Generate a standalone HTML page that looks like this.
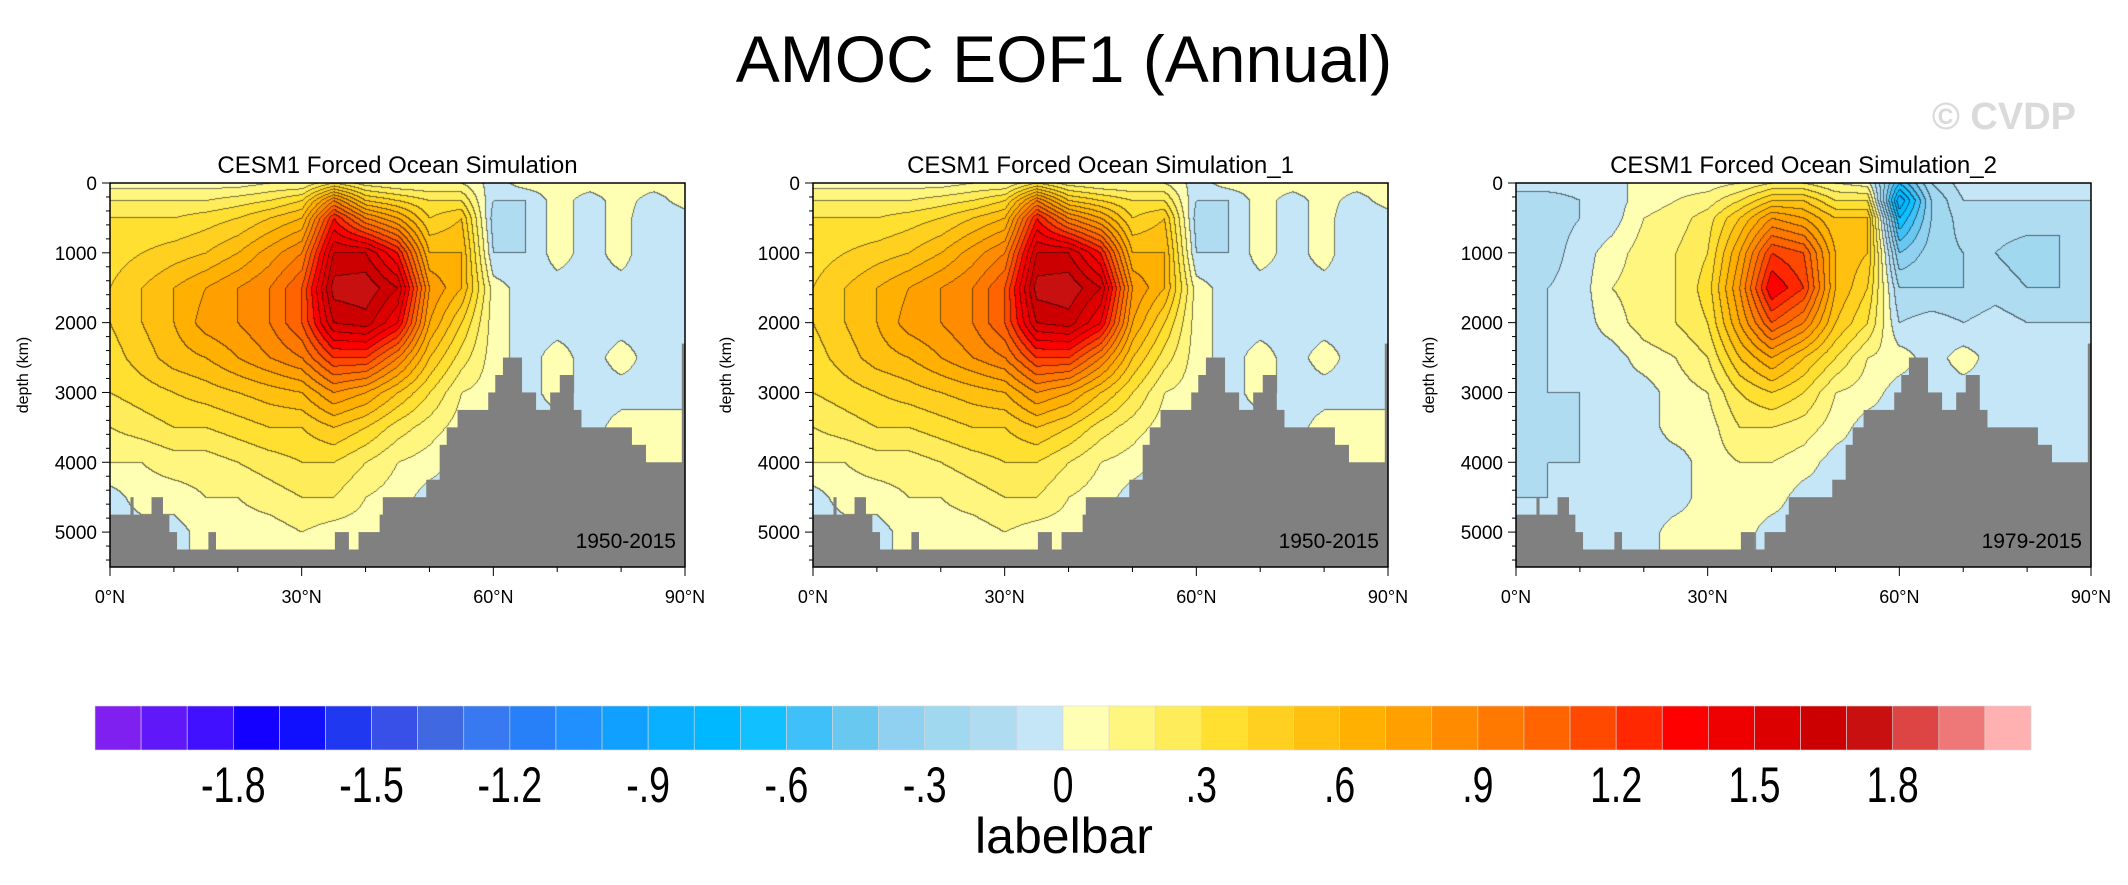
<!DOCTYPE html>
<html><head><meta charset="utf-8"><style>
html,body{margin:0;padding:0;background:#fff;}
#root{position:relative;width:2128px;height:885px;overflow:hidden;font-family:"Liberation Sans",sans-serif;}
canvas{position:absolute;}
svg{position:absolute;left:0;top:0;}
</style></head><body>
<div id="root">
<canvas id="c0" width="575" height="384" style="left:110px;top:183px"></canvas>
<canvas id="c1" width="575" height="384" style="left:813px;top:183px"></canvas>
<canvas id="c2" width="575" height="384" style="left:1516px;top:183px"></canvas>
<svg id="ov" width="2128" height="885"></svg>
</div>
<script>
const lats=[0,5,10,15,20,25,30,35,40,45,50,55,60,65,70,75,80,85,90];
const depths=[0,250,500,1000,1500,2000,2500,3000,3500,4000,4500,5000,5500];
const field1=[
[0.05,0.05,0.05,0.05,0.05,0.1,0.1,0.3,0.15,0.1,0.1,0.1,-0.05,0.05,0.05,0.05,0.05,0.05,0.05],
[0.2,0.2,0.2,0.2,0.25,0.3,0.4,0.9,0.5,0.4,0.3,0.3,-0.1,-0.1,0.05,-0.05,0.05,-0.05,0.05],
[0.3,0.3,0.3,0.35,0.4,0.5,0.6,1.3,0.9,0.7,0.4,0.5,-0.15,-0.1,0.05,-0.05,0.05,-0.1,-0.05],
[0.35,0.4,0.45,0.5,0.6,0.75,0.9,1.6,1.6,1.3,0.6,0.6,-0.1,-0.1,0.05,-0.05,0.05,-0.1,-0.05],
[0.4,0.5,0.6,0.7,0.8,0.9,1.1,1.75,1.78,1.6,0.8,0.6,0.05,-0.05,-0.05,-0.05,-0.05,-0.05,-0.05],
[0.4,0.5,0.6,0.75,0.8,0.9,1.1,1.6,1.65,1.4,0.7,0.4,0.05,-0.05,-0.05,-0.05,-0.05,-0.05,-0.05],
[0.35,0.45,0.55,0.6,0.7,0.8,0.9,1.2,1.2,0.9,0.5,0.25,0.05,-0.05,0.05,-0.05,0.05,-0.05,-0.05],
[0.3,0.35,0.4,0.45,0.5,0.55,0.6,0.8,0.7,0.5,0.3,0.1,0.05,-0.05,0.05,-0.05,-0.05,-0.05,-0.05],
[0.2,0.25,0.3,0.3,0.35,0.4,0.4,0.5,0.4,0.25,0.15,0.05,0.05,-0.05,-0.05,-0.05,0.05,0.05,0.05],
[0.1,0.1,0.15,0.15,0.2,0.25,0.3,0.3,0.2,0.1,0.05,-0.05,-0.05,-0.05,-0.05,-0.05,0.05,0.05,0.05],
[-0.05,0.05,0.05,0.1,0.1,0.15,0.2,0.2,0.1,0.05,-0.05,-0.05,-0.05,-0.05,-0.05,-0.05,0.05,0.05,0.05],
[-0.05,-0.05,-0.05,0.05,0.05,0.05,0.1,0.05,0.05,0.05,-0.05,-0.05,-0.05,-0.05,-0.05,-0.05,0.05,0.05,0.05],
[-0.05,-0.05,-0.05,0.05,0.05,0.05,0.1,0.05,0.05,0.05,-0.05,-0.05,-0.05,-0.05,-0.05,-0.05,0.05,0.05,0.05]];
const field2=[
[0.05,0.05,0.05,0.05,0.05,0.1,0.1,0.3,0.15,0.1,0.1,0.1,-0.05,0.05,0.05,0.05,0.05,0.05,0.05],
[0.2,0.2,0.2,0.2,0.25,0.3,0.4,0.9,0.5,0.4,0.3,0.3,-0.1,-0.1,0.05,-0.05,0.05,-0.05,0.05],
[0.3,0.3,0.3,0.35,0.4,0.5,0.6,1.3,0.9,0.7,0.4,0.5,-0.15,-0.1,0.05,-0.05,0.05,-0.1,-0.05],
[0.35,0.4,0.45,0.5,0.6,0.75,0.9,1.6,1.6,1.3,0.6,0.6,-0.1,-0.1,0.05,-0.05,0.05,-0.1,-0.05],
[0.4,0.5,0.6,0.7,0.8,0.9,1.1,1.75,1.78,1.6,0.8,0.6,0.05,-0.05,-0.05,-0.05,-0.05,-0.05,-0.05],
[0.4,0.5,0.6,0.75,0.8,0.9,1.1,1.6,1.65,1.4,0.7,0.4,0.05,-0.05,-0.05,-0.05,-0.05,-0.05,-0.05],
[0.35,0.45,0.55,0.6,0.7,0.8,0.9,1.2,1.2,0.9,0.5,0.25,0.05,-0.05,0.05,-0.05,0.05,-0.05,-0.05],
[0.3,0.35,0.4,0.45,0.5,0.55,0.6,0.8,0.7,0.5,0.3,0.1,0.05,-0.05,0.05,-0.05,-0.05,-0.05,-0.05],
[0.2,0.25,0.3,0.3,0.35,0.4,0.4,0.5,0.4,0.25,0.15,0.05,0.05,-0.05,-0.05,-0.05,0.05,0.05,0.05],
[0.1,0.1,0.15,0.15,0.2,0.25,0.3,0.3,0.2,0.1,0.05,-0.05,-0.05,-0.05,-0.05,-0.05,0.05,0.05,0.05],
[-0.05,0.05,0.05,0.1,0.1,0.15,0.2,0.2,0.1,0.05,-0.05,-0.05,-0.05,-0.05,-0.05,-0.05,0.05,0.05,0.05],
[-0.05,-0.05,-0.05,0.05,0.05,0.05,0.1,0.05,0.05,0.05,-0.05,-0.05,-0.05,-0.05,-0.05,-0.05,0.05,0.05,0.05],
[-0.05,-0.05,-0.05,0.05,0.05,0.05,0.1,0.05,0.05,0.05,-0.05,-0.05,-0.05,-0.05,-0.05,-0.05,0.05,0.05,0.05]];
const field3=[
[-0.05,-0.05,-0.05,-0.05,0.05,0.05,0.05,0.1,0.2,0.2,0.1,0.05,-0.6,-0.2,-0.05,-0.05,-0.05,-0.05,-0.05],
[-0.15,-0.15,-0.1,-0.05,0.05,0.1,0.15,0.3,0.5,0.5,0.3,0.3,-0.9,-0.3,-0.1,-0.1,-0.1,-0.1,-0.1],
[-0.2,-0.15,-0.1,-0.05,0.1,0.15,0.25,0.5,0.8,0.7,0.5,0.5,-0.7,-0.3,-0.15,-0.15,-0.15,-0.2,-0.2],
[-0.2,-0.15,-0.05,0.05,0.15,0.2,0.3,0.7,1.2,1.1,0.6,0.5,-0.4,-0.25,-0.2,-0.2,-0.25,-0.2,-0.2],
[-0.15,-0.1,-0.05,0.1,0.15,0.2,0.35,0.8,1.4,1.2,0.6,0.4,-0.2,-0.2,-0.2,-0.15,-0.2,-0.2,-0.2],
[-0.15,-0.1,-0.05,0.05,0.15,0.2,0.3,0.7,1.1,0.9,0.5,0.3,-0.1,-0.05,-0.1,-0.05,-0.1,-0.1,-0.1],
[-0.15,-0.1,-0.05,-0.05,0.05,0.1,0.2,0.5,0.7,0.5,0.3,0.1,0.05,-0.05,0.05,-0.05,-0.05,-0.05,-0.05],
[-0.15,-0.1,-0.1,-0.05,-0.05,0.05,0.1,0.3,0.4,0.3,0.1,0.05,-0.05,-0.05,-0.05,-0.05,-0.05,-0.05,-0.05],
[-0.15,-0.15,-0.1,-0.1,-0.05,0.05,0.05,0.2,0.2,0.15,0.05,-0.05,-0.05,-0.05,-0.05,-0.05,-0.05,-0.05,-0.05],
[-0.15,-0.1,-0.1,-0.1,-0.05,-0.05,0.05,0.1,0.1,0.05,-0.05,-0.05,-0.05,-0.05,-0.05,-0.05,-0.05,-0.05,-0.05],
[-0.1,-0.1,-0.1,-0.1,-0.05,-0.05,0.05,0.05,0.05,-0.05,-0.05,-0.05,-0.05,-0.05,-0.05,-0.05,-0.05,-0.05,-0.05],
[-0.05,-0.05,-0.05,-0.05,-0.05,0.05,0.05,0.05,-0.05,-0.05,-0.05,-0.05,-0.05,-0.05,-0.05,-0.05,-0.05,-0.05,-0.05],
[-0.05,-0.05,-0.05,-0.05,-0.05,0.05,0.05,0.05,-0.05,-0.05,-0.05,-0.05,-0.05,-0.05,-0.05,-0.05,-0.05,-0.05,-0.05]];
const bathyLat=[0,3.2,3.6,6.5,8.2,9.2,10.4,15.4,16.5,35.2,37.3,38.9,42.2,42.7,49.5,51.6,52.7,54.4,59.2,60.3,61.5,64.4,66.6,68.9,70.4,72.5,73.7,81.6,83.8,89.5];
const bathyDepth=[4750,4500,4750,4500,4750,5000,5250,5000,5250,5000,5250,5000,4750,4500,4250,3750,3500,3250,3000,2750,2500,3000,3250,3000,2750,3250,3500,3750,4000,2300];
const panelTitles=["CESM1 Forced Ocean Simulation","CESM1 Forced Ocean Simulation_1","CESM1 Forced Ocean Simulation_2"];
const periods=["1950-2015","1950-2015","1979-2015"];
const yTicks=[0,1000,2000,3000,4000,5000];
const xTicks=[0,30,60,90];
const cbColors=["#8020F0","#6018F8","#4010FF","#1400FF","#1010FF","#2038F0","#3850E8","#4068E0","#3878F0","#2880F8","#2090FF","#10A0FF","#08B0FF","#00B8FF","#10C0FF","#40C0F8","#68C8F0","#90D0F0","#A0D8F0","#B0DCF2","#C4E6F6","#FFFFB4","#FFF680","#FFEC5A","#FFE030","#FFD020","#FFC010","#FFB000","#FFA000","#FF8C00","#FF7800","#FF6400","#FF4800","#FF2800","#FF0000","#EE0000","#DD0000","#CC0000","#C81010","#DD4444","#EE7777","#FFB0B0"];
const cbLabels=["-1.8","-1.5","-1.2","-.9","-.6","-.3","0",".3",".6",".9","1.2","1.5","1.8"];
const cbLabelValues=[-1.8,-1.5,-1.2,-0.9,-0.6,-0.3,0,0.3,0.6,0.9,1.2,1.5,1.8];

const fields=[field1,field2,field3];
const panelX=[110,813,1516], PT=183, PW=575, PH=384;
const NS="http://www.w3.org/2000/svg";
const ov=document.getElementById('ov');
function mk(tag,attrs,parent){const e=document.createElementNS(NS,tag);for(const k in attrs)e.setAttribute(k,attrs[k]);(parent||ov).appendChild(e);return e;}
const xs=lat=>lat/90*PW, ys=d=>d/5500*PH;
function levelIdx(v){let i=Math.floor(v*10+21+1e-9);return Math.max(0,Math.min(41,i));}
function hex(c){return [parseInt(c.slice(1,3),16),parseInt(c.slice(3,5),16),parseInt(c.slice(5,7),16)];}
const rgb=cbColors.map(hex);
function sample(F,lat,d){
  let i=Math.min(lats.length-2,Math.floor(lat/5)); let tx=(lat-lats[i])/(lats[i+1]-lats[i]);
  let j=0; while(j<depths.length-2&&d>depths[j+1])j++; let ty=(d-depths[j])/(depths[j+1]-depths[j]);
  tx=Math.max(0,Math.min(1,tx)); ty=Math.max(0,Math.min(1,ty));
  const a=F[j][i],b=F[j][i+1],c=F[j+1][i],e=F[j+1][i+1];
  return a*(1-tx)*(1-ty)+b*tx*(1-ty)+c*(1-tx)*ty+e*tx*ty;
}
fields.forEach((F,p)=>{
  const cv=document.getElementById('c'+p),ctx=cv.getContext('2d');
  const img=ctx.createImageData(PW,PH); const L=new Int8Array(PW*PH);
  for(let y=0;y<PH;y++)for(let x=0;x<PW;x++)L[y*PW+x]=levelIdx(sample(F,x/PW*90,y/PH*5500));
  for(let y=0;y<PH;y++)for(let x=0;x<PW;x++){
    const k=y*PW+x,l=L[k];let c=rgb[l];
    const edge=(x<PW-1&&L[k+1]!==l)||(y<PH-1&&L[k+PW]!==l);
    const f=edge?0.45:1;
    img.data[k*4]=c[0]*f;img.data[k*4+1]=c[1]*f;img.data[k*4+2]=c[2]*f;img.data[k*4+3]=255;
  }
  ctx.putImageData(img,0,0);
});
let t=mk('text',{x:1064,y:82,'text-anchor':'middle','font-size':66,fill:'#000'});t.textContent='AMOC EOF1 (Annual)';


t=mk('text',{x:2076,y:129,'text-anchor':'end','font-size':38,'font-weight':'bold',fill:'#dadada'});t.textContent='© CVDP';


panelX.forEach((X,p)=>{
  const g=mk('g',{transform:`translate(${X},${PT})`});
  
  
  for(let i=0;i<bathyLat.length;i++){
    const l0=bathyLat[i],l1=i<bathyLat.length-1?bathyLat[i+1]:90;
    const r=mk('rect',{x:xs(l0),y:ys(bathyDepth[i]),width:xs(l1)-xs(l0)+0.6,height:PH-ys(bathyDepth[i]),fill:'#808080'},g);
    
    
  }
  const r=mk('rect',{x:0,y:ys(5250),width:PW,height:PH-ys(5250),fill:'#808080'},g);
  
  
  mk('rect',{x:0,y:0,width:PW,height:PH,fill:'none',stroke:'#000','stroke-width':1.5},g);
  for(let d=0;d<=5400;d+=200){const big=d%1000===0;mk('line',{x1:0,x2:big?-8:-4,y1:ys(d),y2:ys(d),stroke:'#000','stroke-width':1},g);}
  for(let l=0;l<=90;l+=10){const big=l%30===0;mk('line',{x1:xs(l),x2:xs(l),y1:PH,y2:PH+(big?9:5),stroke:'#000','stroke-width':1},g);}
  yTicks.forEach(d=>{const e=mk('text',{x:-13,y:ys(d)+7,'text-anchor':'end','font-size':19},g);e.textContent=d;
    
    });
  xTicks.forEach(l=>{const e=mk('text',{x:xs(l),y:PH+36,'text-anchor':'middle','font-size':18},g);e.textContent=l+'°N';
    
    });
  let e=mk('text',{x:PW/2,y:-10,'text-anchor':'middle','font-size':24},g);e.textContent=panelTitles[p];
  
  
  e=mk('text',{x:PW-9,y:365,'text-anchor':'end','font-size':21},g);e.textContent=periods[p];
  
  
  e=mk('text',{x:0,y:0,'text-anchor':'middle','font-size':16,transform:`translate(-82,${PH/2}) rotate(-90)`},g);e.textContent='depth (km)';
  
  
});
const CBX=95,CBW=1936,CBY=706,CBH=44,bw=CBW/cbColors.length;
cbColors.forEach((c,i)=>{const r=mk('rect',{x:CBX+i*bw,y:CBY,width:bw,height:CBH,fill:c,stroke:'#d8d8d8','stroke-width':0.6});
  
  });
const cbPos=v=>CBX+(v*10+21)*bw;
cbLabels.forEach((s,i)=>{const x=cbPos(cbLabelValues[i]);const e=mk('text',{x:0,y:0,'text-anchor':'middle','font-size':50,transform:`translate(${x},802) scale(0.75,1)`});e.textContent=s;
  
  });
t=mk('text',{x:1064,y:853,'text-anchor':'middle','font-size':50});t.textContent='labelbar';


</script>
</body></html>
